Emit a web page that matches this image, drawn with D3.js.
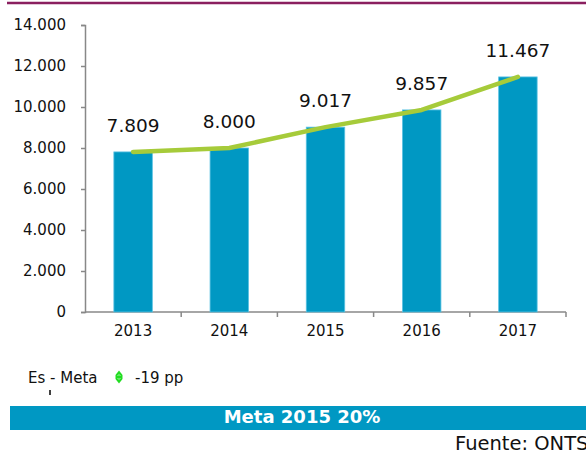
<!DOCTYPE html>
<html>
<head>
<meta charset="utf-8">
<script src="https://cdn.jsdelivr.net/npm/d3@7"></script>
<style>
  html, body { margin: 0; padding: 0; background: #fff; }
  svg { display: block; font-family: "DejaVu Sans", Verdana, sans-serif; }
</style>
</head>
<body>
<svg id="chart" width="586" height="456"></svg>
<script>
// Usuarios por año (barras) y tendencia (línea)
const years = ["2013", "2014", "2015", "2016", "2017"];
const values = [7809, 8000, 9017, 9857, 11467];
const yTicks = [0, 2000, 4000, 6000, 8000, 10000, 12000, 14000];
const legendLabel = "Es - Meta";
const legendValue = "-19 pp";
const bannerText = "Meta 2015 20%";
const sourceText = "Fuente: ONTSI";

const FONT = "DejaVu Sans, Verdana, sans-serif";
const svg = d3.select("#chart");
const fmt = d3.formatLocale({ decimal: ",", thousands: ".", grouping: [3], currency: ["", "€"] }).format(",.0f");

const plot = { left: 85, right: 566, top: 25, bottom: 312 };

const x = d3.scaleBand().domain(years).range([plot.left, plot.right]).paddingInner(0.6).paddingOuter(0.3);
const y = d3.scaleLinear().domain([0, 14000]).range([plot.bottom, plot.top]);

// Franja superior
svg.append("line")
  .attr("x1", 7).attr("x2", 586).attr("y1", 3).attr("y2", 3)
  .attr("stroke", "#8a1f5f").attr("stroke-width", 2.5);

// Eje Y
const yAxis = svg.append("g")
  .attr("transform", `translate(${plot.left},0)`)
  .call(d3.axisLeft(y).tickValues(yTicks).tickFormat(fmt).tickSize(4).tickPadding(15));
yAxis.select(".domain").attr("stroke", "#888").attr("stroke-width", 1.5);
yAxis.selectAll(".tick line").attr("stroke", "#888").attr("stroke-width", 1.5);
yAxis.selectAll(".tick text").attr("font-size", "15px").attr("fill", "#111")
  .attr("font-family", FONT);

// Eje X con marcas entre categorías
const xAxisG = svg.append("g").attr("transform", `translate(0,${plot.bottom})`);
xAxisG.append("line")
  .attr("x1", plot.left).attr("x2", plot.right)
  .attr("stroke", "#888").attr("stroke-width", 1.5);
const bounds = d3.range(years.length).map(i => plot.left + (i + 1) * (plot.right - plot.left) / years.length);
xAxisG.selectAll("line.tick").data(bounds).join("line")
  .attr("class", "tick")
  .attr("x1", d => d).attr("x2", d => d).attr("y1", 0).attr("y2", 5)
  .attr("stroke", "#888").attr("stroke-width", 1.5);
xAxisG.selectAll("text").data(years).join("text")
  .attr("x", d => x(d) + x.bandwidth() / 2)
  .attr("y", 24)
  .attr("text-anchor", "middle")
  .attr("font-size", "15px")
  .attr("fill", "#111")
  .text(d => d);

// Barras
svg.append("g").selectAll("rect").data(years).join("rect")
  .attr("x", d => x(d))
  .attr("y", (d, i) => y(values[i]))
  .attr("width", x.bandwidth())
  .attr("height", (d, i) => y(0) - y(values[i]))
  .attr("fill", "#0098c3")
  .attr("stroke", "#5cc3e3")
  .attr("stroke-width", 0.8);

// Línea de tendencia
const line = d3.line()
  .x((d, i) => x(years[i]) + x.bandwidth() / 2)
  .y(d => y(d));
svg.append("path")
  .datum(values)
  .attr("d", line)
  .attr("fill", "none")
  .attr("stroke", "#a6cb3a")
  .attr("stroke-width", 4.5)
  .attr("stroke-linecap", "round")
  .attr("stroke-linejoin", "round");

// Etiquetas de valor
svg.append("g").selectAll("text").data(years).join("text")
  .attr("x", d => x(d) + x.bandwidth() / 2)
  .attr("y", (d, i) => y(values[i]) - 20)
  .attr("text-anchor", "middle")
  .attr("font-size", "18.5px")
  .attr("fill", "#111")
  .text((d, i) => fmt(values[i]));

// Leyenda inferior
svg.append("text")
  .attr("x", 28).attr("y", 383)
  .attr("font-size", "15px").attr("fill", "#111")
  .text(legendLabel);
const icon = svg.append("g").attr("transform", "translate(119,377)");
icon.append("path")
  .attr("d", "M0,-6.5 L3.5,-2 L3.5,2 L0,6.5 L-3.5,2 L-3.5,-2 Z")
  .attr("fill", "#22dd22");
icon.append("path")
  .attr("d", "M-1.5,-1 L0,-2.5 L1.5,-1 M-1.5,1 L0,2.5 L1.5,1")
  .attr("fill", "none").attr("stroke", "#c8f5c8").attr("stroke-width", 0.8);
svg.append("text")
  .attr("x", 135).attr("y", 383)
  .attr("font-size", "15px").attr("fill", "#111")
  .text(legendValue);
svg.append("line")
  .attr("x1", 50).attr("x2", 50).attr("y1", 390).attr("y2", 395)
  .attr("stroke", "#000").attr("stroke-width", 1.5);

// Banda de meta
svg.append("rect")
  .attr("x", 10).attr("y", 406).attr("width", 590).attr("height", 24)
  .attr("fill", "#0098c3");
svg.append("text")
  .attr("x", 302).attr("y", 423)
  .attr("text-anchor", "middle")
  .attr("font-size", "18px").attr("font-weight", "bold").attr("fill", "#fff")
  .text(bannerText);

// Fuente
svg.append("text")
  .attr("x", 455).attr("y", 450)
  .attr("font-size", "19.5px").attr("fill", "#111")
  .text(sourceText);
</script>
</body>
</html>
